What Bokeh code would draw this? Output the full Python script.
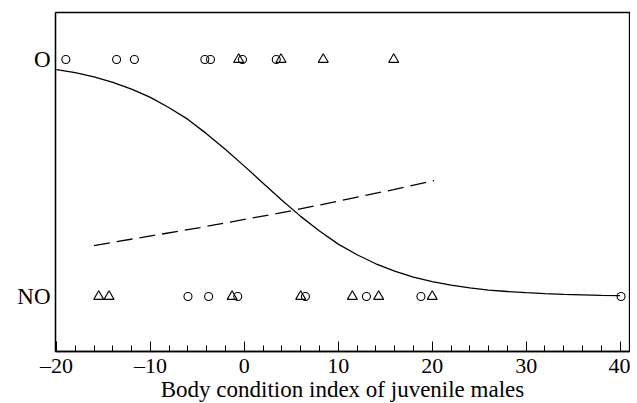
from bokeh.plotting import figure
from bokeh.models import Range1d, FixedTicker
from bokeh.embed import file_html
from bokeh.resources import INLINE

# Observations: body condition index, outcome row (1 = O, 0 = NO)
o_circle_x = [-19.0, -13.6, -11.7, -4.2, -3.6, -0.2, 3.4]
o_triangle_x = [-0.6, 3.9, 8.4, 15.9]
no_circle_x = [-6.0, -3.8, -0.7, 6.5, 13.0, 18.8, 40.1]
no_triangle_x = [-15.5, -14.4, -1.3, 6.0, 11.5, 14.3, 20.0]

# Fitted curve (solid)
solid_x = [-20, -18, -16, -14, -12, -10, -8, -6, -4, -2, 0, 2, 4, 6, 8, 10,
           12, 14, 16, 18, 20, 22, 24, 26, 28, 30, 32, 34, 36, 38, 40]
solid_y = [0.957, 0.944, 0.926, 0.903, 0.875, 0.840, 0.796, 0.747, 0.686, 0.620,
           0.550, 0.478, 0.406, 0.338, 0.276, 0.221, 0.176, 0.138, 0.107, 0.082,
           0.063, 0.048, 0.036, 0.027, 0.021, 0.016, 0.012, 0.009, 0.007, 0.005, 0.004]

# Fitted curve (dashed)
dash_x = [-16.0, -4.7, 4.7, 15.9, 20.2]
dash_y = [0.215, 0.291, 0.359, 0.451, 0.489]

y_ticks = [0, 1]
y_labels = {0: "NO", 1: "O"}
x_ticks = [-20, -10, 0, 10, 20, 30, 40]
x_labels = {-20: "\u201320", -10: "\u201310", 0: "0", 10: "10", 20: "20", 30: "30", 40: "40"}

FONT = "Liberation Serif"

p = figure(frame_width=574, frame_height=339, output_backend="svg", toolbar_location=None,
           x_range=Range1d(-20.1, 41.0), y_range=Range1d(-0.232, 1.198),
           min_border_left=55, min_border_top=12, min_border_right=1, min_border_bottom=10)
p.grid.visible = False
p.outline_line_color = "black"
p.outline_line_width = 1.3
p.background_fill_color = "white"
p.border_fill_color = "white"

xa = p.xaxis[0]
xa.ticker = FixedTicker(ticks=x_ticks, minor_ticks=list(range(-20, 42, 2)))
xa.major_label_overrides = x_labels
xa.major_tick_in = 10
xa.major_tick_out = 0
xa.minor_tick_in = 6
xa.minor_tick_out = 0
xa.axis_line_color = "black"
xa.axis_line_width = 1.3
xa.major_tick_line_color = "black"
xa.minor_tick_line_color = "black"
xa.major_label_text_font = FONT
xa.major_label_text_font_size = "22px"
xa.major_label_text_color = "black"
xa.major_label_standoff = 1
xa.axis_label = "Body condition index of juvenile males"
xa.axis_label_text_font = FONT
xa.axis_label_text_font_size = "23px"
xa.axis_label_text_font_style = "normal"
xa.axis_label_text_color = "black"
xa.axis_label_standoff = -4

ya = p.yaxis[0]
ya.ticker = FixedTicker(ticks=y_ticks)
ya.major_label_overrides = y_labels
ya.major_tick_in = 0
ya.major_tick_out = 0
ya.minor_tick_line_color = None
ya.axis_line_color = "black"
ya.axis_line_width = 1.3
ya.major_label_text_font = FONT
ya.major_label_text_font_size = "23px"
ya.major_label_text_color = "black"
ya.major_label_standoff = 5

p.line(solid_x, solid_y, line_color="black", line_width=1.3)
p.line(dash_x, dash_y, line_color="black", line_width=1.3, line_dash="16 7")

p.scatter(o_circle_x, [1] * len(o_circle_x), marker="circle", size=8,
          fill_color=None, line_color="black", line_width=1.1)
p.scatter(o_triangle_x, [1] * len(o_triangle_x), marker="triangle", size=10,
          fill_color=None, line_color="black", line_width=1.1)
p.scatter(no_circle_x, [0] * len(no_circle_x), marker="circle", size=8,
          fill_color=None, line_color="black", line_width=1.1)
p.scatter(no_triangle_x, [0] * len(no_triangle_x), marker="triangle", size=10,
          fill_color=None, line_color="black", line_width=1.1)

open("out.html", "w").write(file_html(p, INLINE))
